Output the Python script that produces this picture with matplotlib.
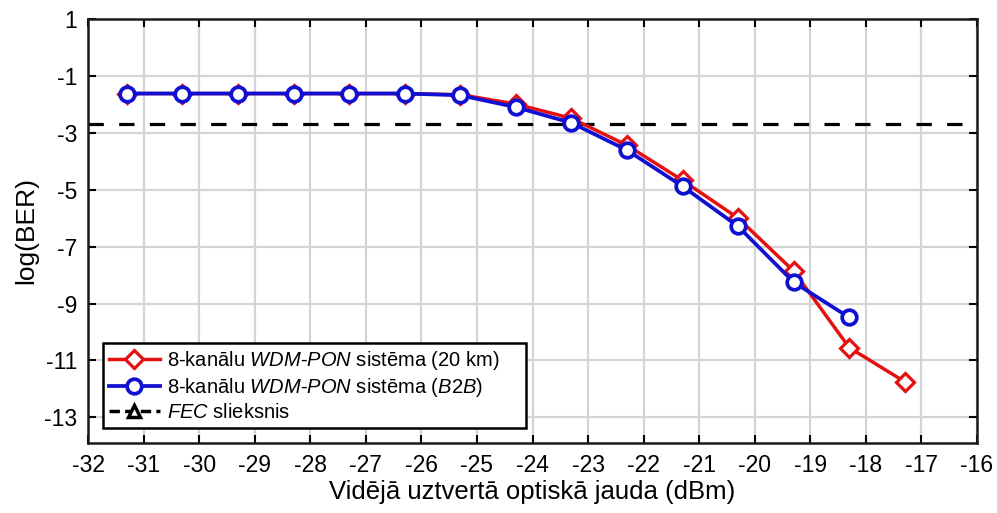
import matplotlib
matplotlib.use("Agg")
import matplotlib.pyplot as plt
from matplotlib.lines import Line2D

plt.rcParams['font.family'] = ['Liberation Sans', 'DejaVu Sans']
plt.rcParams['mathtext.fontset'] = 'custom'
plt.rcParams['mathtext.it'] = 'Liberation Sans:italic'
plt.rcParams['mathtext.rm'] = 'Liberation Sans'

x_20km = [-31.3, -30.3, -29.3, -28.3, -27.3, -26.3, -25.3, -24.3, -23.3, -22.3, -21.3, -20.3, -19.3, -18.3, -17.3]
ber_20km = [-1.62, -1.62, -1.62, -1.62, -1.62, -1.62, -1.66, -1.99, -2.49, -3.44, -4.67, -6.0, -7.86, -10.55, -11.75]
x_b2b = [-31.3, -30.3, -29.3, -28.3, -27.3, -26.3, -25.3, -24.3, -23.3, -22.3, -21.3, -20.3, -19.3, -18.3]
ber_b2b = [-1.62, -1.62, -1.62, -1.62, -1.62, -1.62, -1.68, -2.10, -2.65, -3.61, -4.88, -6.29, -8.25, -9.49]
fec_level = -2.70
x_ticks = list(range(-32, -15))
y_ticks = [1, -1, -3, -5, -7, -9, -11, -13]

label_20km = "8-kanālu $\\mathit{WDM}$-$\\mathit{PON}$ sistēma (20 km)"
label_b2b = "8-kanālu $\\mathit{WDM}$-$\\mathit{PON}$ sistēma ($\\mathit{B2B}$)"
label_fec = "$\\mathit{FEC}$ slieksnis"

RED = '#e51010'
BLUE = '#1010d2'

fig = plt.figure(figsize=(9.97, 5.13), dpi=100)
ax = fig.add_axes([0.0883, 0.1365, 0.8917, 0.8265])

ax.axhline(fec_level, color='black', lw=2.3, ls=(0, (4.8, 4.8)), zorder=2)
ax.plot(x_20km, ber_20km, color=RED, lw=2.5, marker='D', ms=9.5,
        mfc='white', mec=RED, mew=2.3, zorder=3)
ax.plot(x_b2b, ber_b2b, color=BLUE, lw=2.7, marker='o', ms=10.5,
        mfc='white', mec=BLUE, mew=2.7, zorder=4)

ax.set_xlim(-32, -16)
ax.set_ylim(-13.9, 1)
ax.set_xticks(x_ticks)
ax.set_yticks(y_ticks)
ax.set_xticklabels([str(v) for v in x_ticks])
ax.set_yticklabels([str(v) for v in y_ticks])
ax.grid(True, color='#d4d4d4', lw=1.6)
ax.set_axisbelow(True)
ax.tick_params(direction='in', length=6, width=1.5, top=True, right=True,
               labelsize=16.5, colors='black')
ax.tick_params(axis='x', pad=8)
ax.tick_params(axis='y', pad=8)
for s in ax.spines.values():
    s.set_linewidth(1.8)
    s.set_color('#1a1a1a')

ax.set_xlabel('Vidējā uztvertā optiskā jauda (dBm)', fontsize=18.5, labelpad=2)
ax.set_ylabel('log(BER)', fontsize=19, labelpad=4)

handles = [
    Line2D([], [], color=RED, lw=2.5, marker='D', ms=9.5, mfc='white', mec=RED, mew=2.3),
    Line2D([], [], color=BLUE, lw=2.7, marker='o', ms=10.5, mfc='white', mec=BLUE, mew=2.7),
    Line2D([], [], color='black', lw=2.5, ls=(0, (3, 1.5)), marker='^', ms=8, mfc='white', mec='black', mew=2.5),
]
leg = ax.legend(handles, [label_20km, label_b2b, label_fec], loc='lower left',
                bbox_to_anchor=(0.017, 0.035, 0.476, 0.0), mode='expand',
                borderaxespad=0, fontsize=14.5,
                frameon=True, fancybox=False, edgecolor='black', framealpha=1,
                handlelength=2.5, handletextpad=0.35, labelspacing=0.2,
                borderpad=0.3)
leg.get_frame().set_linewidth(1.8)

fig.savefig('out.png', dpi=100)
